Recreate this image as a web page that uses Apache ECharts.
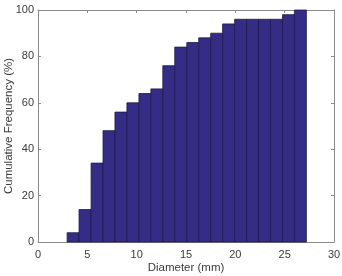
<!DOCTYPE html>
<html>
<head>
<meta charset="utf-8">
<script src="https://cdn.jsdelivr.net/npm/echarts@6/dist/echarts.min.js"></script>
<style>html,body{margin:0;padding:0;background:#fff}#c{width:342px;height:276px}</style>
</head>
<body>
<div id="c"></div>
<script>
// Bin edges (mm) and cumulative frequency (%) per bin
var binEdges = [2.95, 4.16, 5.38, 6.59, 7.80, 9.01, 10.23, 11.44, 12.65, 13.86, 15.08, 16.29, 17.50, 18.71, 19.93, 21.14, 22.35, 23.56, 24.78, 25.99, 27.20];
var cumFreq = [4, 14, 34, 48, 56, 60, 64, 66, 76, 84, 86, 88, 90, 94, 96, 96, 96, 96, 98, 100];
var xTicks = [0, 5, 10, 15, 20, 25, 30];
var yTicks = [0, 20, 40, 60, 80, 100];
var xTitle = 'Diameter (mm)';
var yTitle = 'Cumulative Frequency (%)';

var data = cumFreq.map(function (v, i) { return [binEdges[i], binEdges[i + 1], v]; });

var lineColor = '#8a8a8a';
var textColor = '#3a3a3a';
var font = 'Liberation Sans, Arial, sans-serif';

var chart = echarts.init(document.getElementById('c'), null, {renderer: 'canvas'});
function axisBase(pos, show) {
  return {
    type: 'value', position: pos,
    axisLine: {show: true, onZero: false, lineStyle: {color: lineColor, width: 1}},
    axisTick: {show: true, inside: true, length: 3, lineStyle: {color: lineColor}},
    axisLabel: {show: show, color: textColor, fontSize: 11, fontFamily: font},
    splitLine: {show: false}
  };
}
var xb = axisBase('bottom', true);
xb.min = xTicks[0]; xb.max = xTicks[xTicks.length - 1]; xb.interval = 5;
xb.name = xTitle; xb.nameLocation = 'middle'; xb.nameGap = 20; xb.nameMoveOverlap = false;
xb.nameTextStyle = {color: textColor, fontSize: 11.5, fontFamily: font};
xb.axisLabel.margin = 7;
var xt = axisBase('top', false);
xt.min = xb.min; xt.max = xb.max; xt.interval = 5;
var yl = axisBase('left', true);
yl.min = yTicks[0]; yl.max = yTicks[yTicks.length - 1]; yl.interval = 20;
yl.name = yTitle; yl.nameLocation = 'middle'; yl.nameGap = 23; yl.nameMoveOverlap = false;
yl.nameTextStyle = {color: textColor, fontSize: 11.5, fontFamily: font};
yl.axisLabel.margin = 4;
var yr = axisBase('right', false);
yr.min = yl.min; yr.max = yl.max; yr.interval = 20;

chart.setOption({
  animation: false,
  grid: {left: 38, right: 8, top: 10, bottom: 34, outerBoundsMode: 'none'},
  xAxis: [xb, xt],
  yAxis: [yl, yr],
  series: [{
    type: 'custom',
    xAxisIndex: 0, yAxisIndex: 0,
    data: data,
    encode: {x: [0, 1], y: 2},
    renderItem: function (params, api) {
      var p0 = api.coord([api.value(0), 0]);
      var p1 = api.coord([api.value(1), api.value(2)]);
      return {
        type: 'rect',
        shape: {x: p0[0], y: p1[1], width: p1[0] - p0[0], height: p0[1] - p1[1]},
        style: {fill: '#352d85', stroke: '#1d1a4a', lineWidth: 0.8}
      };
    }
  }]
});
</script>
</body>
</html>
